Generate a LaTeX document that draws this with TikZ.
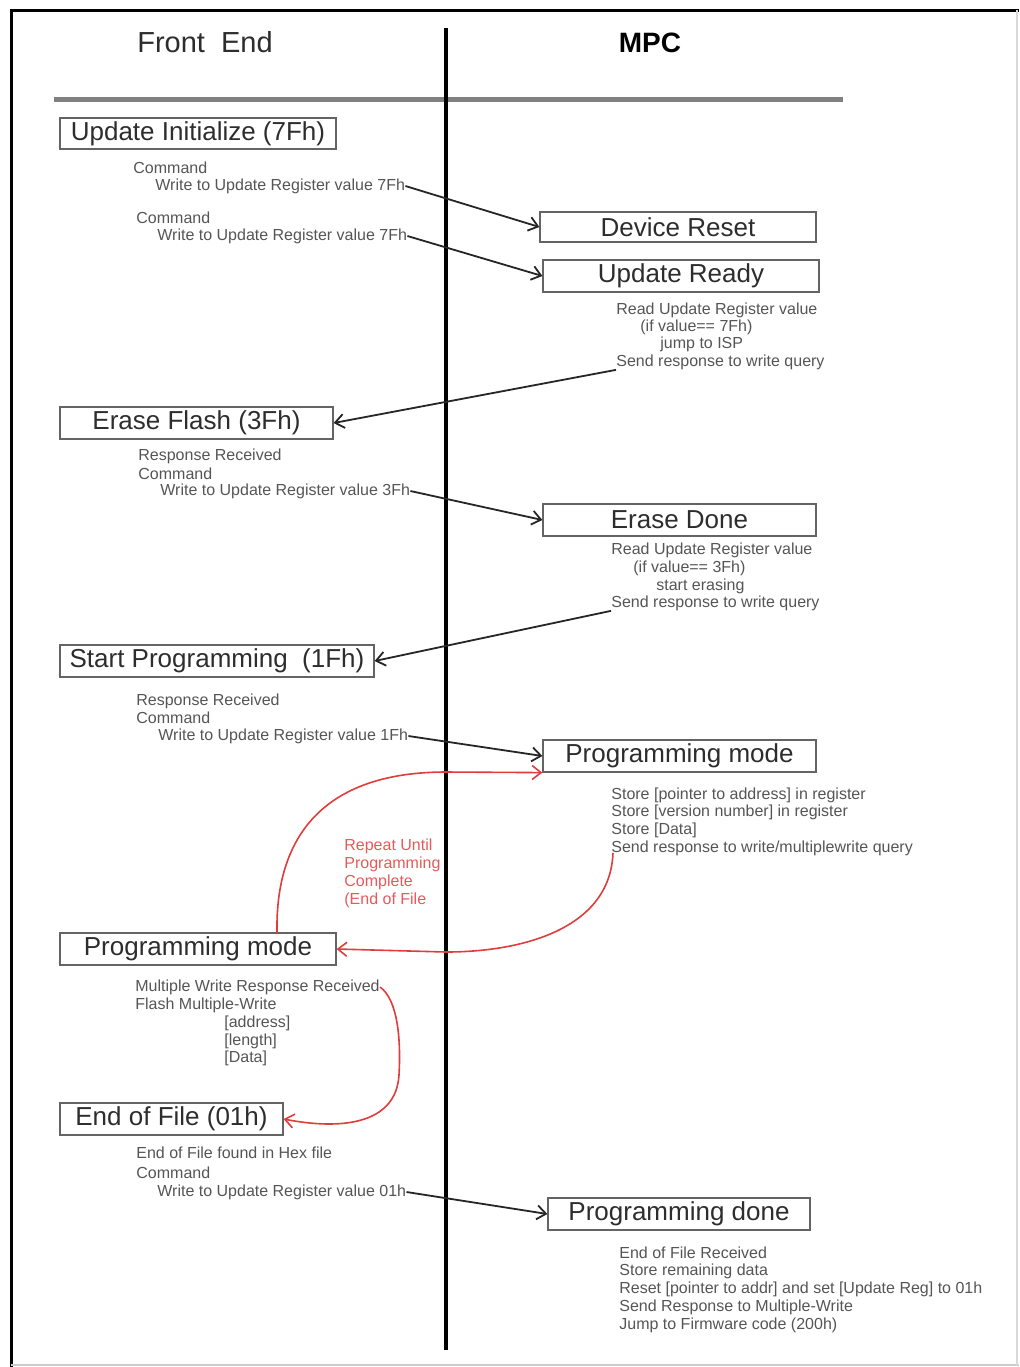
\documentclass[tikz,border=0pt]{standalone}
\usepackage{fontspec}
\setmainfont{Liberation Sans}
\usetikzlibrary{arrows.meta}
\definecolor{txtgray}{RGB}{85,85,85}
\definecolor{ttlgray}{RGB}{45,45,45}
\definecolor{boxgray}{RGB}{100,100,100}
\definecolor{loopred}{RGB}{225,60,60}
\definecolor{lblred}{RGB}{230,90,90}
\tikzset{
  fbox/.style={draw=boxgray, line width=0.6pt, inner sep=0pt, text=ttlgray,
    font=\fontsize{13}{15}\selectfont, minimum height=16pt},
  small/.style={anchor=west, inner sep=0pt, text=txtgray, font=\fontsize{8}{9.6}\selectfont},
  redlbl/.style={anchor=west, inner sep=0pt, text=lblred, font=\fontsize{8}{9.6}\selectfont},
  arr/.style={draw=black!85, line width=0.9pt, -{Straight Barb[length=4.5pt,width=7pt]}},
  redarr/.style={draw=loopred, line width=0.8pt, -{Straight Barb[length=4.5pt,width=7pt]}},
}
\begin{document}
\begin{tikzpicture}[x=0.5pt,y=-0.5pt]
\useasboundingbox (0,0) rectangle (1019,1367);
% frame
\draw[black, line width=1.5pt] (10,10) -- (1019,10);
\draw[black, line width=1.5pt] (11,10) -- (11,1367);
\draw[black!20, line width=1pt] (11,1365) -- (1019,1365);
\draw[black!15, line width=1pt] (1017,10) -- (1017,1365);
% headers
\node[inner sep=0pt, text=ttlgray, font=\fontsize{14.5}{17}\selectfont] (hfe) at (205,42) {Front\ \ End};
\node[inner sep=0pt, text=black, font=\fontsize{14}{17}\selectfont\bfseries] (hmpc) at (650,43) {MPC};
\draw[black!50, line width=2.5pt] (54,99) -- (843,99);
\draw[black, line width=2pt] (446,28) -- (446,1350);

% boxes
\node[fbox, minimum width=138pt, minimum height=15.5pt] (ui) at (198,133.5) {Update Initialize (7Fh)};
\node[fbox, minimum width=138pt, minimum height=15pt] (dr) at (678,227) {Device Reset};
\node[fbox, minimum width=138pt] (ur) at (681,276) {Update Ready};
\node[fbox, minimum width=136.5pt] (ef) at (196.5,423) {Erase Flash (3Fh)};
\node[fbox, minimum width=136.5pt] (ed) at (679.5,520) {Erase Done};
\node[fbox, minimum width=157pt] (sp) at (217,661) {Start Programming\ \ (1Fh)};
\node[fbox, minimum width=136.5pt] (pmr) at (679.5,756) {Programming mode};
\node[fbox, minimum width=138pt] (pml) at (198,949) {Programming mode};
\node[fbox, minimum width=111.5pt] (eof) at (171.5,1119) {End of File (01h)};
\node[fbox, minimum width=131pt] (pd) at (679,1214) {Programming done};

% block 1
\node[small] (a1) at (133,168) {Command};
\node[small] (a2) at (155,186) {Write to Update Register value 7Fh};
\node[small] (b1) at (136,218) {Command};
\node[small] (b2) at (157,236) {Write to Update Register value 7Fh};
% update ready text
\node[small] (c1) at (616,310) {Read Update Register value};
\node[small] (c2) at (640,327) {(if value== 7Fh)};
\node[small] (c3) at (660,344) {jump to ISP};
\node[small] (c4) at (616,362) {Send response to write query};
% erase flash text
\node[small] (d1) at (138,456) {Response Received};
\node[small] (d2) at (138,474) {Command};
\node[small] (d3) at (160,491) {Write to Update Register value 3Fh};
% erase done text
\node[small] (e1) at (611,550) {Read Update Register value};
\node[small] (e2) at (633,568) {(if value== 3Fh)};
\node[small] (e3) at (656,586) {start erasing};
\node[small] (e4) at (611,603) {Send response to write query};
% start programming text
\node[small] (f1) at (136,701) {Response Received};
\node[small] (f2) at (136,718) {Command};
\node[small] (f3) at (158,736) {Write to Update Register value 1Fh};
% programming mode right text
\node[small] (g1) at (611,795) {Store [pointer to address] in register};
\node[small] (g2) at (611,812) {Store [version number] in register};
\node[small] (g3) at (611,830) {Store [Data]};
\node[small] (g4) at (611,848) {Send response to write/multiplewrite query};
% red label
\node[redlbl] (r1) at (344,846) {Repeat Until};
\node[redlbl] (r2) at (344,864) {Programming};
\node[redlbl] (r3) at (344,882) {Complete};
\node[redlbl] (r4) at (344,900) {(End of File};
% programming mode left text
\node[small] (h1) at (135,987) {Multiple Write Response Received};
\node[small] (h2) at (135,1005) {Flash Multiple-Write};
\node[small] (h3) at (224,1023) {[address]};
\node[small] (h4) at (224,1041) {[length]};
\node[small] (h5) at (224,1058) {[Data]};
% end of file text
\node[small] (i1) at (136,1153) {End of File found in Hex file};
\node[small] (i2) at (136,1173) {Command};
\node[small] (i3) at (157,1192) {Write to Update Register value 01h};
% programming done text
\node[small] (j1) at (619,1253) {End of File Received};
\node[small] (j2) at (619,1271) {Store remaining data};
\node[small] (j3) at (619,1289) {Reset [pointer to addr] and set [Update Reg] to 01h};
\node[small] (j4) at (619,1307) {Send Response to Multiple-Write};
\node[small] (j5) at (619,1325) {Jump to Firmware code (200h)};

% black arrows
\draw[arr] (a2.east) -- (dr.west);
\draw[arr] (b2.east) -- (ur.west);
\draw[arr] (c4.south west) -- (ef.east);
\draw[arr] (d3.east) -- (ed.west);
\draw[arr] (e4.south west) -- (sp.east);
\draw[arr] (f3.east) -- (pmr.west);
\draw[arr] (i3.east) -- (pd.west);

% red loop
\coordinate (rs1) at (277,933);
\coordinate (rm1) at (446,772);
\draw[redarr] (rs1) .. controls (275,830) and (330,772) .. (rm1) -- (pmr.south west);
\coordinate (rs2) at (613,853);
\coordinate (rm2) at (446,952);
\draw[redarr] (rs2) .. controls (610,930) and (520,952) .. (rm2) -- (pml.east);
\coordinate (rm3) at (399,1075);
\draw[redarr] (h1.east) .. controls (398,1000) and (401,1040) .. (rm3) .. controls (396,1125) and (340,1130) .. (eof.east);
\end{tikzpicture}
\end{document}
